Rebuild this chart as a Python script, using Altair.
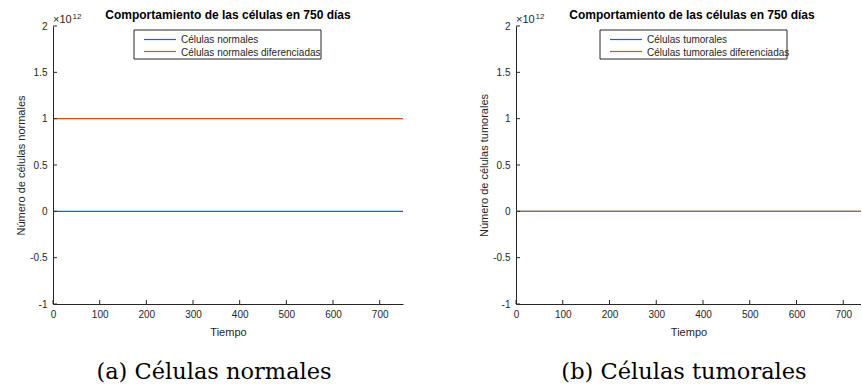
import altair as alt
import pandas as pd

# ---- data ----
tiempo = [0, 750]
normales = [0, 0]
normales_dif = [1e12, 1e12]
tumorales = [0, 0]
tumorales_dif = [0, 0]

x_ticks = [0, 100, 200, 300, 400, 500, 600, 700]
y_ticks = [-1e12, -0.5e12, 0, 0.5e12, 1e12, 1.5e12, 2e12]

titulo = "Comportamiento de las células en 750 días"
nombres_a = ["Células normales", "Células normales diferenciadas"]
nombres_b = ["Células tumorales", "Células tumorales diferenciadas"]
colores = ["#0072BD", "#D95319"]

FONT = "Liberation Sans"
AX = "#262626"
H = 278


def panel(s1, s2, nombres, ytitle, caption, xmax, width, title_x, cap_x, lx):
    df = pd.DataFrame({
        "Tiempo": tiempo + tiempo,
        "valor": s1 + s2,
        "serie": [nombres[0]] * len(tiempo) + [nombres[1]] * len(tiempo),
        "orden": [0] * len(tiempo) + [1] * len(tiempo),
    })
    xs = alt.Scale(domain=[0, xmax], nice=False, zero=False)
    ys = alt.Scale(domain=[-1e12, 2e12], nice=False)
    cs = alt.Scale(domain=nombres, range=colores)
    lines = alt.Chart(df).mark_line(strokeWidth=1.3, clip=True).encode(
        x=alt.X("Tiempo:Q", scale=xs, axis=alt.Axis(
            values=x_ticks, tickSize=0, grid=False, title="Tiempo",
            labelFont=FONT, labelFontSize=10, labelColor=AX, labelPadding=5,
            titleFont=FONT, titleFontSize=11, titleFontWeight="normal", titleColor=AX,
            titlePadding=7, domainColor=AX, labelFlush=False)),
        y=alt.Y("valor:Q", scale=ys, axis=alt.Axis(
            values=y_ticks, tickSize=0, grid=False, title=ytitle,
            labelExpr="'' + (datum.value / 1e12)",
            labelFont=FONT, labelFontSize=10, labelColor=AX, labelPadding=6,
            titleFont=FONT, titleFontSize=11, titleFontWeight="normal", titleColor=AX,
            titlePadding=3, domainColor=AX)),
        color=alt.Color("serie:N", scale=cs, legend=None),
        order="orden:Q",
    )
    xt = alt.Chart(pd.DataFrame({"Tiempo": x_ticks})).mark_rule(color=AX, strokeWidth=1).encode(
        x=alt.X("Tiempo:Q", scale=xs), y=alt.value(H), y2=alt.value(H - 4))
    yt = alt.Chart(pd.DataFrame({"valor": y_ticks})).mark_rule(color=AX, strokeWidth=1).encode(
        y=alt.Y("valor:Q", scale=ys), x=alt.value(0), x2=alt.value(4))
    one = pd.DataFrame({"t": [0]})
    exp1 = alt.Chart(one).mark_text(text="×10", font=FONT, fontSize=11, color=AX,
                                    align="left", baseline="alphabetic").encode(
        x=alt.value(0), y=alt.value(-3.5))
    exp2 = alt.Chart(one).mark_text(text="12", font=FONT, fontSize=8, color=AX,
                                    align="left", baseline="alphabetic").encode(
        x=alt.value(19.5), y=alt.value(-7.5))
    tit = alt.Chart(one).mark_text(text=titulo, font=FONT, fontSize=12, fontWeight="bold",
                                   color="black", align="center", baseline="alphabetic").encode(
        x=alt.value(title_x), y=alt.value(-7))
    cap = alt.Chart(one).mark_text(text=caption, font="DejaVu Serif", fontSize=22.5,
                                   color="black", align="center", baseline="alphabetic").encode(
        x=alt.value(cap_x), y=alt.value(H + 75))
    # legend (drawn by hand, MATLAB style)
    box = alt.Chart(one).mark_rect(fill="white", stroke=AX, strokeWidth=1).encode(
        x=alt.value(lx), x2=alt.value(lx + 187), y=alt.value(4), y2=alt.value(33))
    leg = pd.DataFrame({"serie": nombres, "fila": [0, 1]})
    r0 = alt.Chart(leg.iloc[[0]]).mark_rule(strokeWidth=1.2).encode(
        color=alt.Color("serie:N", scale=cs, legend=None),
        x=alt.value(lx + 10), x2=alt.value(lx + 42), y=alt.value(13.5), y2=alt.value(13.5))
    r1 = alt.Chart(leg.iloc[[1]]).mark_rule(strokeWidth=1.2).encode(
        color=alt.Color("serie:N", scale=cs, legend=None),
        x=alt.value(lx + 10), x2=alt.value(lx + 42), y=alt.value(25.5), y2=alt.value(25.5))
    t0 = alt.Chart(leg.iloc[[0]]).mark_text(font=FONT, fontSize=10, color=AX, align="left",
                                            baseline="middle").encode(
        text="serie:N", x=alt.value(lx + 47), y=alt.value(14))
    t1 = alt.Chart(leg.iloc[[1]]).mark_text(font=FONT, fontSize=10, color=AX, align="left",
                                            baseline="middle").encode(
        text="serie:N", x=alt.value(lx + 47), y=alt.value(26.5))
    return alt.layer(lines, xt, yt, exp1, exp2, tit, cap, box, r0, r1, t0, t1).properties(
        width=width, height=H)


a = panel(normales, normales_dif, nombres_a, "Número de células normales",
          "(a) Células normales", 750, 350, 175, 161, 81)
b = panel(tumorales, tumorales_dif, nombres_b, "Número de células tumorales",
          "(b) Células tumorales", 738, 345, 176, 168, 84)

chart = alt.hconcat(a, b, spacing=75).resolve_scale(color="independent").properties(
    padding={"left": 15, "top": 9, "right": 0, "bottom": 0}
).configure_view(stroke=None).configure_axis(domainWidth=1)

chart.save("out.html", embed_options={"renderer": "svg", "actions": False})
